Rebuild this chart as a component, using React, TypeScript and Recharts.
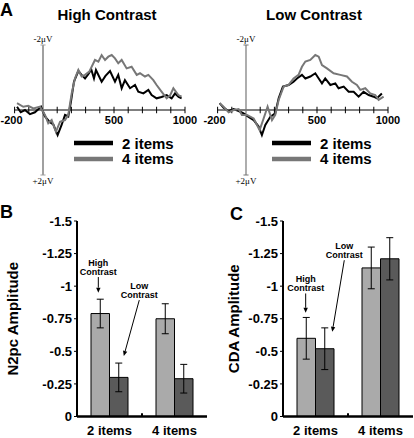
import React from 'react';
import { LineChart, Line, XAxis, YAxis, ReferenceLine, Legend, BarChart, Bar, ErrorBar } from 'recharts';

const FONT = '"Liberation Sans", Arial, Helvetica, sans-serif';
const SERIF = '"Liberation Serif", "Times New Roman", serif';

// ---------- Panel A: ERP waveforms (ms, microvolts; negative plotted up) ----------
const hc2Times = [-183, -157, -127, -92, -57, -14, 14, 49, 72, 103, 131, 155, 178, 197, 218, 249, 272, 296, 319, 340, 359, 373, 413, 440, 472, 507, 530, 554, 577, 613, 648, 671, 707, 742, 765, 800, 835, 871, 906, 930, 955, 976];
const hc2Values = [-0.10, 0.07, 0.00, 0.13, 0.07, -0.10, 0.20, 0.38, 0.44, 0.77, 0.46, 0.15, 0.20, -0.26, -0.87, -1.20, -1.08, -0.97, -1.10, -1.25, -0.97, -1.23, -0.87, -1.05, -1.20, -0.87, -1.08, -0.67, -0.92, -0.67, -0.77, -0.56, -0.51, -0.62, -0.46, -0.36, -0.40, -0.46, -0.36, -0.51, -0.40, -0.36];

const hc4Times = [-183, -139, -104, -68, -21, 14, 37, 61, 91, 120, 155, 178, 202, 225, 249, 272, 296, 326, 366, 390, 413, 437, 460, 484, 507, 530, 554, 589, 624, 660, 683, 718, 742, 777, 800, 836, 871, 895, 918, 953, 976];
const hc4Values = [-0.21, -0.10, -0.13, -0.05, -0.10, 0.15, 0.41, 0.31, 0.67, 0.36, 0.31, 0.15, -0.51, -0.97, -1.23, -1.03, -1.08, -1.18, -1.54, -1.49, -1.69, -1.54, -1.64, -1.69, -1.59, -1.44, -1.54, -1.28, -1.33, -1.08, -1.13, -1.03, -1.08, -0.92, -0.77, -0.56, -0.36, -0.45, -0.67, -0.46, -0.41];

const lc2Times = [-186, -158, -122, -87, -52, -17, 18, 54, 89, 112, 136, 171, 206, 230, 260, 300, 335, 359, 394, 418, 453, 488, 512, 535, 558, 594, 629, 652, 688, 723, 758, 793, 828, 864, 899, 922, 957];
const lc2Values = [-0.21, -0.07, 0.03, -0.03, 0.03, 0.10, 0.21, 0.31, 0.51, 0.77, 0.46, 0.21, 0.10, -0.36, -0.72, -0.77, -0.87, -0.97, -1.08, -0.97, -1.03, -1.13, -0.97, -0.82, -0.97, -0.77, -0.82, -0.67, -0.72, -0.56, -0.56, -0.41, -0.56, -0.46, -0.41, -0.36, -0.51];

const lc4Times = [-186, -158, -122, -87, -52, -29, 7, 54, 96, 124, 152, 183, 206, 230, 265, 300, 335, 370, 394, 418, 453, 488, 512, 535, 570, 617, 664, 711, 746, 781, 805, 840, 875, 910, 934, 969];
const lc4Values = [-0.21, -0.10, 0.07, 0.00, -0.03, 0.15, 0.15, 0.26, 0.62, 0.26, -0.10, 0.31, 0.15, -0.31, -0.72, -0.77, -0.97, -1.08, -1.33, -1.49, -1.54, -1.69, -1.64, -1.38, -1.28, -1.13, -1.08, -1.03, -0.87, -0.77, -0.62, -0.67, -0.51, -0.46, -0.31, -0.41];

const timeTicks = [-200, -100, 100, 200, 300, 400, 500, 600, 700, 800, 900, 1000];
const labeledTicks = ['-200', '500', '1000'];
const seriesNames = ['2 items', '4 items'];
const seriesColors = ['#000000', '#777777'];

// ---------- Panels B & C: amplitudes ----------
const categories = ['2 items', '4 items'];
const n2pcHigh = [-0.79, -0.75];
const n2pcHighErr = [0.11, 0.115];
const n2pcLow = [-0.30, -0.29];
const n2pcLowErr = [0.11, 0.11];
const cdaHigh = [-0.60, -1.14];
const cdaHighErr = [0.16, 0.16];
const cdaLow = [-0.52, -1.21];
const cdaLowErr = [0.16, 0.162];
const amplitudeTicks = [-1.5, -1.25, -1, -0.75, -0.5, -0.25, 0];

// annotation arrows, x as a fraction of the category axis width, y in amplitude units
const n2pcNotes = [
  { top: 'High', bottom: 'Contrast', from: [0.164, -1.07], to: [0.164, -0.95] },
  { top: 'Low', bottom: 'Contrast', from: [0.479, -0.893], to: [0.36, -0.464] },
];
const cdaNotes = [
  { top: 'High', bottom: 'Contrast', from: [0.1745, -0.944], to: [0.1745, -0.796] },
  { top: 'Low', bottom: 'Contrast', from: [0.4715, -1.199], to: [0.379, -0.65] },
];

const toPoints = (ts: number[], vs: number[]) => ts.map((t, i) => ({ t, v: vs[i] }));

const renderLegend = (props: any) => {
  const payload = props.payload || [];
  return (
    <div style={{ fontFamily: FONT, fontWeight: 'bold', fontSize: 15, color: '#000' }}>
      {payload.map((e: any, i: number) => (
        <div key={i} style={{ display: 'flex', alignItems: 'center', height: 15.5, lineHeight: '15.5px' }}>
          <svg width={39} height={6} style={{ marginRight: 9, display: 'block' }}>
            <line x1={0} y1={3} x2={39} y2={3} stroke={e.color} strokeWidth={4.5} />
          </svg>
          <span>{e.value}</span>
        </div>
      ))}
    </div>
  );
};

function ErpPanel(props: any) {
  const { data2, data4, left, width, margin, axisColor, axisWidth, legendLeft } = props;
  return (
    <div style={{ position: 'absolute', left, top: 0 }}>
      <LineChart width={width} height={200} margin={margin}>
        <XAxis type="number" dataKey="t" domain={[-200, 1000]} hide allowDataOverflow />
        <YAxis type="number" domain={[-2, 2]} reversed hide allowDataOverflow />
        <ReferenceLine y={0} stroke="#000" strokeWidth={1} />
        {timeTicks.map((t) => (
          <ReferenceLine
            key={t}
            segment={[{ x: t, y: -0.1 }, { x: t, y: 0.1 }]}
            stroke="#000"
            strokeWidth={1}
            label={
              labeledTicks.includes(String(t))
                ? { value: String(t), position: 'bottom', offset: 2.5, fill: '#000', fontSize: 11, fontWeight: 'bold', dx: t < 0 ? -3 : 0 }
                : undefined
            }
          />
        ))}
        <ReferenceLine x={0} stroke={axisColor} strokeWidth={axisWidth} />
        <ReferenceLine
          segment={[{ x: -18, y: -2 }, { x: 18, y: -2 }]}
          stroke={axisColor}
          strokeWidth={1}
          label={{ value: '-2\u03bcV', position: 'top', offset: 3, fontSize: 9, fontFamily: SERIF, fill: '#000' }}
        />
        <ReferenceLine
          segment={[{ x: -18, y: 2 }, { x: 18, y: 2 }]}
          stroke={axisColor}
          strokeWidth={1}
          label={{ value: '+2\u03bcV', position: 'bottom', offset: 3, fontSize: 9, fontFamily: SERIF, fill: '#000' }}
        />
        <Line data={data2} dataKey="v" name={seriesNames[0]} stroke={seriesColors[0]} strokeWidth={2} dot={false} type="linear" isAnimationActive={false} />
        <Line data={data4} dataKey="v" name={seriesNames[1]} stroke={seriesColors[1]} strokeWidth={2} dot={false} type="linear" isAnimationActive={false} />
        <Legend
          layout="horizontal"
          verticalAlign="middle"
          align="center"
          wrapperStyle={{ left: legendLeft, top: 135.5, width: 130 }}
          content={renderLegend}
        />
      </LineChart>
    </div>
  );
}

const makeArrow = (top: string, bottom: string) => (p: any) => {
  const { x1, y1, x2, y2 } = p;
  if ([x1, y1, x2, y2].some((v) => typeof v !== 'number' || isNaN(v))) return <g />;
  const dx = x2 - x1;
  const dy = y2 - y1;
  const len = Math.hypot(dx, dy) || 1;
  const ux = dx / len;
  const uy = dy / len;
  const hl = 5;
  const hw = 2.2;
  const bx = x2 - ux * hl;
  const by = y2 - uy * hl;
  return (
    <g>
      <text x={x1} y={y1 - 11.5} textAnchor="middle" fontSize={9} fontWeight="bold" fill="#000">{top}</text>
      <text x={x1} y={y1 - 2.5} textAnchor="middle" fontSize={9} fontWeight="bold" fill="#000">{bottom}</text>
      <line x1={x1} y1={y1} x2={bx} y2={by} stroke="#000" strokeWidth={1} />
      <polygon points={`${x2},${y2} ${bx - uy * hw},${by + ux * hw} ${bx + uy * hw},${by - ux * hw}`} fill="#000" />
    </g>
  );
};

function BarPanel(props: any) {
  const { left, high, highErr, low, lowErr, yLabel, labelOffset, axisWidth, rightMargin, notes } = props;
  const data = categories.map((c, i) => ({ cat: c, high: high[i], highErr: highErr[i], low: low[i], lowErr: lowErr[i] }));
  return (
    <div style={{ position: 'absolute', left, top: 200 }}>
      <BarChart width={207} height={238} data={data} margin={{ top: 21, right: rightMargin, bottom: 0, left: 0 }} barGap={0} barSize={18.5}>
        <XAxis
          dataKey="cat"
          axisLine={{ stroke: '#000', strokeWidth: 2.5 }}
          tickLine={false}
          tickSize={6}
          tickMargin={3.3}
          height={21.5}
          interval={0}
          tick={{ fill: '#000', fontSize: 13, fontWeight: 'bold' }}
        />
        <XAxis xAxisId="n" type="number" domain={[0, 1]} allowDataOverflow hide />
        <YAxis
          type="number"
          domain={[-1.5, 0]}
          reversed
          ticks={amplitudeTicks}
          interval={0}
          width={axisWidth}
          axisLine={{ stroke: '#000', strokeWidth: 2 }}
          tickLine={{ stroke: '#000' }}
          tickSize={3}
          tickMargin={2}
          tick={{ fill: '#000', fontSize: 13, fontWeight: 'bold' }}
          label={{ value: yLabel, angle: -90, position: 'insideLeft', offset: labelOffset, fill: '#000', fontSize: 15, fontWeight: 'bold', style: { textAnchor: 'middle' } }}
        />
        <Bar dataKey="high" fill="#aaaaaa" stroke="#000" strokeWidth={1} isAnimationActive={false}>
          <ErrorBar dataKey="highErr" width={3.5} stroke="#000" strokeWidth={1} />
        </Bar>
        <Bar dataKey="low" fill="#5a5a5a" stroke="#000" strokeWidth={1} isAnimationActive={false}>
          <ErrorBar dataKey="lowErr" width={3.5} stroke="#000" strokeWidth={1} />
        </Bar>
        <ReferenceLine xAxisId="n" segment={[{ x: 0.5, y: 0 }, { x: 0.5, y: -0.025 }]} stroke="#000" strokeWidth={2} />
        {notes.map((n: any, i: number) => (
          <ReferenceLine
            key={i}
            xAxisId="n"
            segment={[{ x: n.from[0], y: n.from[1] }, { x: n.to[0], y: n.to[1] }]}
            stroke="#000"
            shape={makeArrow(n.top, n.bottom)}
          />
        ))}
      </BarChart>
    </div>
  );
}

const letterStyle: React.CSSProperties = { position: 'absolute', fontFamily: FONT, fontWeight: 'bold', fontSize: 18, lineHeight: '18px', color: '#000' };
const titleStyle: React.CSSProperties = { position: 'absolute', fontFamily: FONT, fontWeight: 'bold', fontSize: 15, lineHeight: '15px', color: '#000', textAlign: 'center', width: 140 };

export default function App() {
  return (
    <div style={{ position: 'absolute', left: 0, top: 0, width: 414, height: 438, background: '#fff', overflow: 'hidden', fontFamily: FONT }}>
      <ErpPanel
        data2={toPoints(hc2Times, hc2Values)}
        data4={toPoints(hc4Times, hc4Values)}
        left={0}
        width={207}
        margin={{ top: 45, right: 22, bottom: 25, left: 14.6 }}
        axisColor="#a0a0a0"
        axisWidth={2}
        legendLeft={74}
      />
      <ErpPanel
        data2={toPoints(lc2Times, lc2Values)}
        data4={toPoints(lc4Times, lc4Values)}
        left={195}
        width={219}
        margin={{ top: 45, right: 26, bottom: 25, left: 22.6 }}
        axisColor="#777777"
        axisWidth={1.2}
        legendLeft={77}
      />
      <BarPanel left={0} high={n2pcHigh} highErr={n2pcHighErr} low={n2pcLow} lowErr={n2pcLowErr} yLabel="N2pc Amplitude" labelOffset={12.5} axisWidth={77} rightMargin={0} notes={n2pcNotes} />
      <BarPanel left={207} high={cdaHigh} highErr={cdaHighErr} low={cdaLow} lowErr={cdaLowErr} yLabel="CDA Amplitude" labelOffset={26.5} axisWidth={76} rightMargin={1} notes={cdaNotes} />
      <div style={{ ...letterStyle, left: 0, top: 1 }}>A</div>
      <div style={{ ...titleStyle, left: 107 - 70, top: 7.3 }}>High Contrast</div>
      <div style={{ ...titleStyle, left: 314 - 70, top: 7.3 }}>Low Contrast</div>
      <div style={{ ...letterStyle, left: 0, top: 203 }}>B</div>
      <div style={{ ...letterStyle, left: 230, top: 205 }}>C</div>
    </div>
  );
}
